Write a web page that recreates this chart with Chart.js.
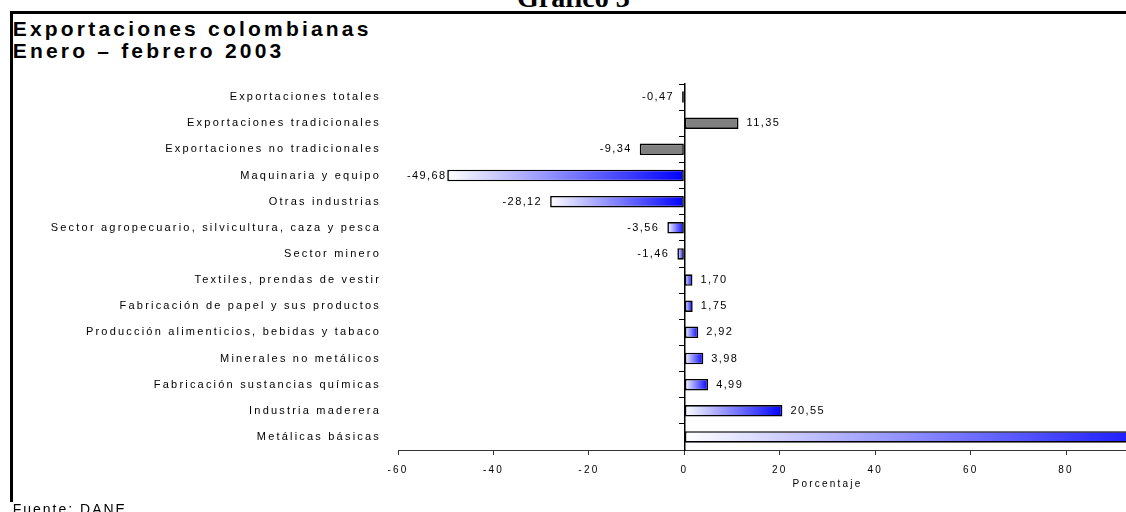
<!DOCTYPE html>
<html lang="es">
<head>
<meta charset="UTF-8">
<title>Exportaciones colombianas</title>
<script src="https://cdn.jsdelivr.net/npm/chart.js"></script>
<style>
  html, body { margin: 0; padding: 0; background: #fff; }
  body { width: 1126px; height: 512px; overflow: hidden; position: relative; font-family: "Liberation Sans", Arial, sans-serif; color: #000; }
  .marco { position: absolute; left: 9.5px; top: 11px; width: 1200px; height: 488px; border-top: 3px solid #000; border-left: 3px solid #000; }
  .grafico { position: absolute; left: 517px; top: -16.4px; font: bold 28px/28px "Liberation Serif", "Times New Roman", serif; white-space: nowrap; }
  .titulo { position: absolute; left: 12.7px; top: 17.5px; font: bold 21px/22.5px "Liberation Sans", Arial, sans-serif; letter-spacing: 3.2px; white-space: nowrap; }
  .fuente { position: absolute; left: 12.7px; top: 501.6px; font: 14px/14px "Liberation Sans", Arial, sans-serif; letter-spacing: 2px; white-space: nowrap; }
  .container { position: absolute; left: 0; top: 0; width: 1300px; height: 512px; }
</style>
</head>
<body>
  <div class="grafico">Gráfico 3</div>
  <div class="marco"></div>
  <div class="titulo">Exportaciones colombianas<br>Enero – febrero 2003</div>
  <div class="container">
    <canvas id="myChart"></canvas>
  </div>
  <div class="fuente">Fuente: DANE</div>

<script>
const categorias = [
  'Exportaciones totales',
  'Exportaciones tradicionales',
  'Exportaciones no tradicionales',
  'Maquinaria y equipo',
  'Otras industrias',
  'Sector agropecuario, silvicultura, caza y pesca',
  'Sector minero',
  'Textiles, prendas de vestir',
  'Fabricación de papel y sus productos',
  'Producción alimenticios, bebidas y tabaco',
  'Minerales no metálicos',
  'Fabricación sustancias químicas',
  'Industria maderera',
  'Metálicas básicas'
];
const valores = [-0.47, 11.35, -9.34, -49.68, -28.12, -3.56, -1.46, 1.70, 1.75, 2.92, 3.98, 4.99, 20.55, 106];
const agregados = ['Exportaciones totales', 'Exportaciones tradicionales', 'Exportaciones no tradicionales'];

const fuente = '"Liberation Sans", Arial, sans-serif';

// the original uses very wide letter spacing everywhere
const espaciado = {
  id: 'espaciado',
  beforeLayout(chart) { chart.ctx.letterSpacing = '2.2px'; },
  beforeDraw(chart) { chart.ctx.letterSpacing = '2.2px'; }
};

const etiquetas = {
  id: 'etiquetas',
  afterDatasetsDraw(chart) {
    const ctx = chart.ctx;
    const area = chart.chartArea;
    const meta = chart.getDatasetMeta(0);
    ctx.save();
    ctx.letterSpacing = '1.4px';
    ctx.font = '11px ' + fuente;
    ctx.fillStyle = '#000';
    ctx.textBaseline = 'middle';
    meta.data.forEach((bar, i) => {
      const v = valores[i];
      const txt = v.toFixed(2).replace('.', ',');
      if (v >= 0) {
        ctx.textAlign = 'left';
        ctx.fillText(txt, bar.x + 8, bar.y);
      } else {
        const w = ctx.measureText(txt).width;
        // labels that do not fit are pushed inside the plot edge
        if (bar.x - 8 - w < area.left + 9) {
          ctx.textAlign = 'left';
          ctx.fillText(txt, area.left + 9, bar.y);
        } else {
          ctx.textAlign = 'right';
          ctx.fillText(txt, bar.x - 8, bar.y);
        }
      }
    });
    ctx.restore();
  }
};

function relleno(c) {
  if (c.type !== 'data') return '#808080';
  if (agregados.includes(categorias[c.dataIndex])) return '#808080';
  const chart = c.chart;
  const x = chart.scales.x;
  if (!chart.chartArea || !x) return '#8080ff';
  const a = x.getPixelForValue(0);
  const b = x.getPixelForValue(valores[c.dataIndex]);
  const g = chart.ctx.createLinearGradient(Math.min(a, b), 0, Math.max(a, b), 0);
  g.addColorStop(0, '#ffffff');
  g.addColorStop(1, '#0000ff');
  return g;
}

const ctx = document.getElementById('myChart').getContext('2d');
const chart = new Chart(ctx, {
  type: 'bar',
  data: {
    labels: categorias,
    datasets: [{
      data: valores,
      backgroundColor: relleno,
      borderColor: '#000',
      borderWidth: 1.6,
      borderSkipped: false,
      barPercentage: 0.44,
      categoryPercentage: 1
    }]
  },
  options: {
    indexAxis: 'y',
    responsive: true,
    maintainAspectRatio: false,
    animation: false,
    layout: { padding: { top: 84, right: 43, bottom: 17, left: 0 } },
    plugins: {
      legend: { display: false },
      tooltip: { enabled: false }
    },
    scales: {
      x: {
        min: -60,
        max: 120,
        position: 'bottom',
        afterFit: (axis) => { axis.height = 45; },
        border: { color: '#333', width: 1 },
        grid: { drawOnChartArea: false, drawTicks: true, tickLength: 5, color: '#333' },
        ticks: {
          stepSize: 20,
          color: '#000',
          padding: 9,
          maxRotation: 0,
          font: { family: fuente, size: 10 },
          callback: (v) => String(v)
        },
        title: {
          display: true,
          text: 'Porcentaje',
          color: '#000',
          font: { family: fuente, size: 10 },
          padding: { top: 0, bottom: 5 }
        }
      },
      y: {
        position: 'left',
        afterFit: (axis) => { axis.width = 398; },
        border: { display: false },
        grid: { display: false },
        ticks: {
          color: '#000',
          padding: 9,
          autoSkip: false,
          font: { family: fuente, size: 11 }
        }
      },
      cero: {
        type: 'category',
        axis: 'y',
        position: { x: 0 },
        border: { color: '#000', width: 1.5 },
        grid: { drawOnChartArea: false, drawTicks: true, tickLength: 5, color: '#000', offset: true },
        ticks: { display: false }
      }
    }
  },
  plugins: [espaciado, etiquetas]
});
</script>
</body>
</html>
